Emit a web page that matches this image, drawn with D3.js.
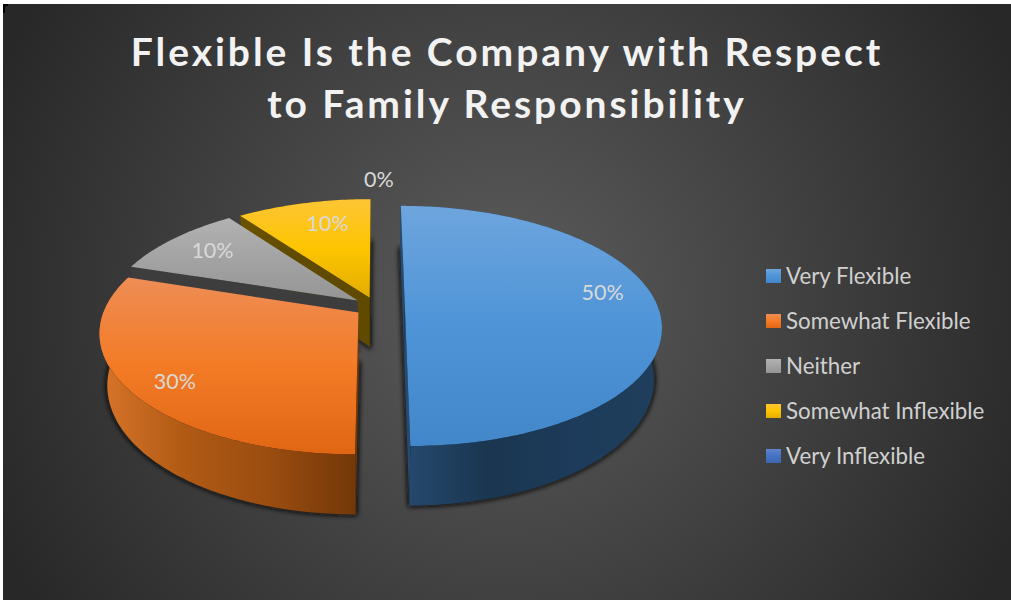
<!DOCTYPE html>
<html>
<head>
<meta charset="utf-8">
<script src="https://cdn.jsdelivr.net/npm/d3@7/dist/d3.min.js"></script>
<style>
  html, body { margin: 0; padding: 0; background: #fff; overflow: hidden; }
  svg { display: block; }
  text { font-family: Lato, "Open Sans", sans-serif; }
</style>
</head>
<body>
<svg id="chart" width="1011" height="600"></svg>
<script>
// Survey responses
const titleLines = ["Flexible Is the Company with Respect", "to Family Responsibility"];
const categories = ["Very Flexible", "Somewhat Flexible", "Neither", "Somewhat Inflexible", "Very Inflexible"];
const shares = [50, 30, 10, 10, 0];

// How far each slice is pulled out of the pie, as a fraction of its radius
const explosion = [0.114, 0.085, 0.09, 0.082, 0];

// Label placement on the slice: radial fraction and degrees away from the slice's middle
const labelRadius = [0.81, 0.84, 0.78, 0.75, 1.32];
const labelTurn = [-9, -3, 0.5, 3.3, 0.6];

// Slice palettes: top face ramp, wall ramp (left to right), flat cut-face colour
const faceRamps = [
  ["#6ea5de", "#4e94d7", "#4287c9"],
  ["#ee8d55", "#f37b26", "#e06614"],
  ["#b2b2b2", "#a3a3a3", "#959595"],
  ["#fdc535", "#fdc500", "#e3ad00"],
  ["#5f83cf", "#4472c4", "#3c66b0"]
];
const wallRamps = [
  ["#264a70", "#1a3650", "#1d3b5a", "#1f3f5c"],
  ["#d8742a", "#b05a14", "#9a4c10", "#733808"],
  ["#3d3d3d", "#3d3d3d"],
  ["#6a5200", "#5f4a00", "#5f4a00"],
  ["#263f6e", "#263f6e", "#263f6e"]
];
const cutColors = ["#264a70", "#733808", "#3d3d3d", "#5f4a00", "#263f6e"];

// Perspective camera for the tilted pie; the underside sits further away, so it narrows
const view = { cx: 376, cy: 306.7, rx: 253, ry: 117, depth: 50, k: 0.16, underside: 0.972 };

function project(px, py, lift) {
  const s = 1 / (1 - view.k * py);
  const t = lift ? view.underside : 1;
  return [view.cx + view.rx * px * s * t, view.cy + view.ry * py * s + (lift ? view.depth * s : 0)];
}

// Point on a slice at a clock angle (0 = far side, clockwise) and radial fraction
function slicePoint(d, angle, r, lift) {
  const mid = (d.startAngle + d.endAngle) / 2;
  const e = explosion[d.index];
  const px = r * Math.sin(angle) + e * Math.sin(mid);
  const py = -r * Math.cos(angle) - e * Math.cos(mid);
  return project(px, py, lift);
}

const svg = d3.select("#chart");
const defs = svg.append("defs");
const W = 1011, H = 600;

const bg = defs.append("radialGradient").attr("id", "bg")
  .attr("gradientUnits", "userSpaceOnUse")
  .attr("cx", 507).attr("cy", 302).attr("r", 560);
bg.append("stop").attr("offset", 0).attr("stop-color", "#5c5c5c");
bg.append("stop").attr("offset", 1).attr("stop-color", "#282828");

defs.append("filter").attr("id", "soft")
  .attr("x", "-20%").attr("y", "-20%").attr("width", "140%").attr("height", "140%")
  .append("feGaussianBlur").attr("stdDeviation", 2.6);

function ramp(id, colors, horizontal) {
  const g = defs.append("linearGradient").attr("id", id)
    .attr("x1", 0).attr("y1", 0)
    .attr("x2", horizontal ? 1 : 0).attr("y2", horizontal ? 0 : 1);
  colors.forEach((c, i) => g.append("stop")
    .attr("offset", i / (colors.length - 1)).attr("stop-color", c));
}
faceRamps.forEach((c, i) => ramp("face" + i, c, false));
wallRamps.forEach((c, i) => ramp("wall" + i, c, true));

// Backdrop
svg.append("rect").attr("x", 3).attr("y", 4).attr("width", W - 3).attr("height", H - 4)
  .attr("fill", "url(#bg)");
svg.append("path").attr("d", "M4 13V5H8").attr("fill", "none").attr("stroke", "#000").attr("stroke-width", 2);

// Title
svg.append("g").selectAll("text").data(titleLines).join("text")
  .attr("x", 507).attr("y", (d, i) => 66 + i * 52)
  .attr("text-anchor", "middle")
  .attr("fill", "#f2f2f2")
  .attr("font-size", 39).attr("font-weight", 700)
  .attr("letter-spacing", 2.95)
  .text(d => d);

// Pie
const arcs = d3.pie().sort(null).value(d => d)(shares);
const line = d3.line().curve(d3.curveLinear);

function rim(d, lift, from = d.startAngle, to = d.endAngle) {
  const n = Math.max(2, Math.ceil((to - from) * 60));
  return d3.range(n + 1).map(i => slicePoint(d, from + (to - from) * i / n, 1, lift));
}

function drawSlice(d) {
  if (d.endAngle - d.startAngle < 1e-6) return;
  const g = svg.append("g");
  const i = d.index;
  const hub = lift => slicePoint(d, 0, 0, lift);

  // Soft contact shadow cast by the underside
  g.append("path")
    .attr("d", line([hub(true), ...rim(d, true)]) + "Z")
    .attr("fill", "#0c0c0c").attr("stroke", "#0c0c0c").attr("stroke-width", 3)
    .attr("filter", "url(#soft)");

  // Cut faces that turn toward the camera
  [d.startAngle, d.endAngle].forEach((a, k) => {
    const A = hub(false), B = slicePoint(d, a, 1, false);
    const dx = B[0] - A[0];
    if (k === 0 ? dx < 0 : dx > 0) {
      g.append("path")
        .attr("d", line([A, B, slicePoint(d, a, 1, true), hub(true)]) + "Z")
        .attr("fill", cutColors[i]);
    }
  });

  // Curved outer wall
  const top = rim(d, false), bottom = rim(d, true);
  g.append("path")
    .attr("d", line([...top, ...bottom.slice().reverse()]) + "Z")
    .attr("fill", `url(#wall${i})`);

  // Top face
  g.append("path")
    .attr("d", line([hub(false), ...top]) + "Z")
    .attr("fill", `url(#face${i})`);
}

// Painted far to near so nearer slices cover the walls behind them
[3, 2, 1, 0, 4].forEach(i => drawSlice(arcs[i]));

// Value labels
svg.append("g").selectAll("text").data(arcs).join("text")
  .attr("transform", d => {
    const mid = (d.startAngle + d.endAngle) / 2 + labelTurn[d.index] * Math.PI / 180;
    const p = slicePoint(d, mid, labelRadius[d.index], false);
    return `translate(${p[0]},${p[1]})`;
  })
  .attr("text-anchor", "middle").attr("dy", "0.35em")
  .attr("fill", "#d9d9d9").attr("font-size", 21.5)
  .text(d => d.value + "%");

// Legend
const legendY = d3.scalePoint().domain(categories).range([276, 456]);
const legend = svg.append("g").selectAll("g").data(categories).join("g")
  .attr("transform", d => `translate(766,${legendY(d)})`);
legend.append("rect").attr("y", -7).attr("width", 15).attr("height", 14)
  .attr("fill", (d, i) => `url(#face${i})`);
legend.append("text").attr("x", 20).attr("y", 0.5).attr("dy", "0.35em")
  .attr("fill", "#d0d0d0").attr("font-size", 22.3)
  .text(d => d);
</script>
</body>
</html>
